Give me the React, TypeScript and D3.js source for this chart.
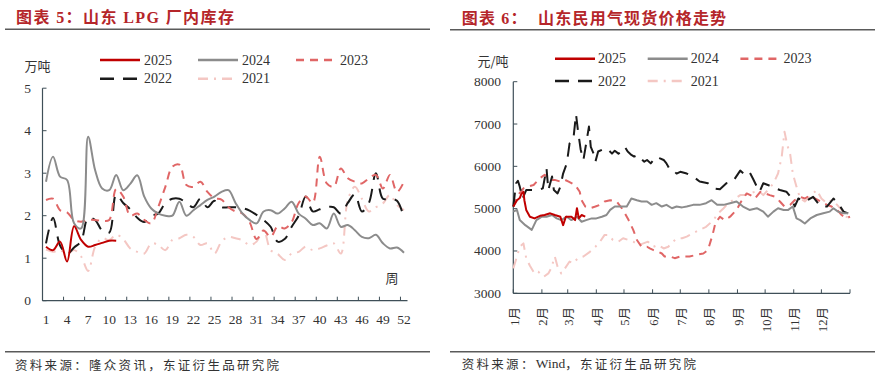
import React from "react";
import * as d3 from "d3";

// ---------- Left chart: 山东 LPG 厂内库存 (万吨), weekly ----------
const weeks = d3.range(1, 53);
const weekTickLabels = [1, 4, 7, 10, 13, 16, 19, 22, 25, 28, 31, 34, 37, 40, 43, 46, 49, 52];
const invTicks = [0, 1, 2, 3, 4, 5];

const inv2025 = [1.27, 1.19, 1.39, 0.92, 1.75, 1.43, 1.27, 1.31, 1.36, 1.41, 1.41];
const inv2024 = [2.8, 3.39, 2.92, 2.84, 1.82, 1.7, 3.86, 3.07, 2.64, 2.6, 2.96, 2.6, 2.75, 2.95, 2.45, 2.17, 2.05, 2.0, 2.0, 2.33, 2.0, 2.13, 2.25, 2.37, 2.45, 2.56, 2.6, 2.3, 2.05, 1.9, 1.82, 2.1, 2.13, 2.05, 2.17, 2.33, 2.05, 1.93, 1.78, 1.82, 1.7, 2.05, 1.74, 1.78, 1.66, 1.5, 1.47, 1.55, 1.35, 1.23, 1.25, 1.13];
const inv2023 = [2.37, 2.4, 2.13, 2.08, 1.9, 1.86, 1.9, 1.9, 1.88, 1.9, 2.63, 2.45, 2.0, 2.05, 1.9, 1.82, 2.21, 2.68, 3.15, 3.2, 2.72, 2.68, 2.8, 2.56, 2.41, 2.38, 2.2, 2.1, 2.05, 1.85, 1.45, 1.65, 1.5, 1.75, 1.7, 1.85, 2.3, 2.45, 2.3, 3.39, 2.76, 2.68, 3.11, 2.88, 2.8, 2.76, 2.88, 2.96, 2.64, 2.96, 2.56, 2.8];
const inv2022 = [1.35, 1.95, 1.3, 1.1, 1.25, 1.4, 1.95, 1.9, 1.65, 1.6, 2.5, 2.3, 2.15, 1.95, 1.85, 2.0, 2.05, 2.3, 2.4, 2.4, 2.3, 2.2, 2.4, 2.2, 2.35, 2.2, 2.2, 2.2, 2.18, 2.12, 2.02, 1.9, 1.74, 1.39, 1.45, 1.74, 2.0, 2.45, 2.1, 2.15, 2.2, 2.2, 2.05, 2.3, 2.5, 2.1, 2.3, 3.0, 2.4, 2.4, 2.35, 1.95];
const inv2021 = [1.2, 1.15, 1.19, 1.1, 1.19, 1.04, 0.7, 1.27, 1.47, 1.43, 1.55, 1.45, 1.23, 1.15, 1.11, 1.35, 1.31, 1.19, 1.43, 1.47, 1.55, 1.5, 1.31, 1.35, 1.11, 1.39, 1.5, 1.47, 1.42, 1.31, 1.39, 1.66, 1.19, 1.1, 0.96, 1.11, 1.15, 1.27, 1.19, 1.23, 1.3, 1.35, 1.11, 2.37, 2.68, 2.4, 2.1, 2.2, 2.29, 2.49, 2.25, 2.13];

// ---------- Right chart: 山东民用气现货价格 (元/吨), by day of year ----------
const monthLabels = ["1月", "2月", "3月", "4月", "5月", "6月", "7月", "8月", "9月", "10月", "11月", "12月"];
const monthStartDays = [0, 31, 59, 90, 120, 151, 181, 212, 243, 273, 304, 334, 365];
const priceTicks = [3000, 4000, 5000, 6000, 7000, 8000];

const price2025: [number, number][] = [[0, 5050], [4, 5200], [7, 5250], [9, 5360], [11, 5400], [12, 5200], [14, 4970], [18, 4810], [23, 4770], [29, 4830], [34, 4850], [40, 4890], [45, 4850], [51, 4810], [54, 4610], [57, 4810], [63, 4810], [67, 4730], [69, 5010], [71, 4770], [74, 4850], [78, 4810]];
const price2024: [number, number][] = [[0, 4930], [4, 4970], [7, 4730], [13, 4610], [20, 4500], [25, 4730], [31, 4810], [36, 4810], [42, 4850], [47, 4770], [52, 4730], [58, 4810], [63, 4730], [69, 4810], [74, 4690], [79, 4730], [85, 4770], [90, 4770], [96, 4810], [101, 4850], [105, 4970], [110, 5050], [117, 5050], [123, 5050], [128, 5240], [134, 5200], [139, 5170], [145, 5170], [150, 5090], [155, 5130], [161, 5050], [166, 5090], [172, 5010], [177, 5050], [183, 5030], [188, 5050], [195, 5090], [202, 5090], [209, 5130], [215, 5200], [221, 5090], [228, 5090], [235, 5130], [242, 5170], [249, 5050], [256, 4970], [264, 5010], [271, 4930], [276, 4810], [282, 4930], [287, 5010], [293, 4970], [298, 4970], [303, 5050], [307, 4770], [311, 4730], [316, 4650], [322, 4770], [329, 4850], [336, 4890], [343, 4930], [347, 5010], [352, 4930], [358, 4890], [363, 4890]];
const price2023: [number, number][] = [[0, 5050], [5, 5320], [11, 5480], [16, 5520], [22, 5560], [29, 5720], [34, 5800], [40, 5680], [45, 5680], [51, 5640], [56, 5680], [60, 5640], [67, 5560], [72, 5400], [74, 5200], [78, 5050], [83, 5010], [89, 5050], [94, 5090], [99, 5170], [105, 5200], [112, 5170], [119, 4970], [125, 4730], [130, 4500], [134, 4260], [139, 4100], [145, 4100], [148, 4060], [152, 4020], [157, 3980], [161, 3940], [164, 3870], [170, 3870], [175, 3830], [181, 3870], [184, 3870], [191, 3870], [199, 3910], [206, 3940], [211, 4020], [216, 4380], [219, 4650], [224, 4810], [229, 4730], [235, 4810], [242, 4970], [247, 5170], [253, 5360], [257, 5320], [262, 5240], [268, 5400], [273, 5360], [278, 5320], [284, 5280], [289, 5170], [294, 5050], [300, 5090], [305, 5200], [311, 5280], [316, 5240], [322, 5320], [327, 5240], [333, 5170], [340, 5090], [345, 5050], [351, 4970], [356, 4850], [361, 4770], [365, 4810]];
const price2022: [number, number][] = [[0, 5050], [3, 5600], [5, 5660], [7, 5520], [10, 5240], [14, 5440], [21, 5440], [28, 5450], [32, 5480], [36, 5950], [38, 5440], [42, 5760], [44, 5440], [48, 5360], [51, 5520], [54, 5830], [58, 6070], [61, 6540], [65, 6620], [68, 7230], [70, 6860], [73, 6400], [76, 6150], [79, 6540], [82, 6940], [84, 6460], [87, 6300], [89, 6110], [92, 6350], [96, 6390], [100, 6430], [103, 6390], [107, 6300], [110, 6370], [114, 6300], [117, 6350], [121, 6460], [124, 6350], [128, 6270], [131, 6230], [135, 6270], [138, 6190], [142, 6110], [145, 6150], [149, 6070], [152, 6150], [156, 6230], [159, 6190], [163, 6150], [166, 6070], [170, 5910], [173, 5910], [177, 5830], [181, 5870], [188, 5830], [195, 5760], [202, 5640], [211, 5600], [217, 5480], [224, 5460], [231, 5600], [238, 5640], [246, 5900], [251, 5800], [256, 5870], [260, 5700], [264, 5520], [267, 5400], [271, 5600], [276, 5560], [284, 5480], [289, 5440], [296, 5400], [302, 5240], [305, 5050], [309, 5240], [316, 5160], [325, 5280], [333, 5050], [340, 5050], [347, 5240], [352, 5130], [358, 4930], [363, 4890]];
const price2021: [number, number][] = [[0, 3590], [4, 3870], [7, 4100], [11, 4180], [14, 3830], [18, 3650], [23, 3470], [27, 3510], [33, 3390], [38, 3470], [41, 3590], [45, 3870], [48, 3630], [52, 3470], [56, 3590], [61, 3750], [65, 3710], [70, 3830], [76, 3870], [83, 3980], [89, 4100], [94, 4220], [99, 4380], [103, 4380], [108, 4260], [114, 4220], [119, 4300], [125, 4260], [130, 4220], [136, 4140], [141, 4180], [146, 4220], [152, 4100], [157, 4140], [163, 4060], [168, 4100], [173, 4220], [178, 4300], [183, 4300], [188, 4340], [195, 4420], [202, 4500], [209, 4570], [217, 4730], [222, 4890], [228, 5010], [233, 5130], [238, 5200], [246, 5320], [251, 5320], [256, 5360], [262, 5400], [267, 5400], [271, 5320], [276, 5440], [282, 5600], [287, 5830], [291, 6230], [294, 6820], [297, 6500], [300, 6310], [303, 5830], [307, 5520], [311, 5240], [316, 5170], [323, 5320], [329, 5440], [334, 5240], [340, 5130], [345, 5200], [351, 5090], [356, 4970], [361, 4810], [365, 4770]];

const seriesNames = ["2025", "2024", "2023", "2022", "2021"];

// ---------- styles ----------
const STYLE: Record<string, { color: string; dash?: string; width: number }> = {
  "2025": { color: "#c00000", width: 2 },
  "2024": { color: "#8c8c8c", width: 2 },
  "2023": { color: "#e06666", dash: "8,6", width: 2 },
  "2022": { color: "#1a1a1a", dash: "14,9", width: 2 },
  "2021": { color: "#f4c7c3", dash: "10,6,2,6", width: 2 },
};

const SERIF = "'Liberation Serif', 'Noto Sans CJK SC', serif";
const CJK = "'Noto Sans CJK SC', 'Liberation Serif', sans-serif";
const AXIS = "#3f4f58";
const TITLE_RED = "#b5262a";

function Legend({ x0, rows, gapX, labelOffset }: { x0: number; rows: number[]; gapX: number; labelOffset: number }) {
  const items = seriesNames.map((n, i) => ({ n, col: i % 3, row: Math.floor(i / 3) }));
  return (
    <g>
      {items.map(({ n, col, row }) => {
        const x = x0 + col * gapX;
        const y = rows[row];
        const s = STYLE[n];
        return (
          <g key={n}>
            <line x1={x} x2={x + 40} y1={y} y2={y} stroke={s.color} strokeWidth={2.5} strokeDasharray={s.dash} />
            <text x={x + labelOffset} y={y} dominantBaseline="central" fontSize={14} fontFamily={SERIF} fill="#333">
              {n}
            </text>
          </g>
        );
      })}
    </g>
  );
}

export default function App() {
  // left scales
  const xL = d3.scaleBand<number>().domain(weeks).range([42.5, 407.5]).paddingInner(0).paddingOuter(0);
  const yL = d3.scaleLinear().domain([0, 5]).range([300.7, 88.2]);
  const cx = (w: number) => (xL(w) as number) + xL.bandwidth() / 2;
  const lineL = d3
    .line<number>()
    .x((_, i) => cx(i + 1))
    .y((v) => yL(v))
    .curve(d3.curveCatmullRom.alpha(0.5));
  const leftSeries: [string, number[]][] = [
    ["2021", inv2021],
    ["2022", inv2022],
    ["2023", inv2023],
    ["2024", inv2024],
    ["2025", inv2025],
  ];

  // right scales
  const xR = d3.scaleLinear().domain([0, 365]).range([513.3, 850]);
  const yR = d3.scaleLinear().domain([3000, 8000]).range([293.3, 81.7]);
  const lineR = d3
    .line<[number, number]>()
    .x((d) => xR(d[0]))
    .y((d) => yR(d[1]));
  const rightSeries: [string, [number, number][]][] = [
    ["2021", price2021],
    ["2023", price2023],
    ["2022", price2022],
    ["2024", price2024],
    ["2025", price2025],
  ];

  return (
    <svg
      width={880}
      height={384}
      style={{ position: "absolute", left: 0, top: 0, background: "#fff" }}
      xmlns="http://www.w3.org/2000/svg"
    >
      <rect x={0} y={0} width={880} height={384} fill="#fff" />

      {/* ===== Left panel ===== */}
      <text x={16} y={17.5} dominantBaseline="central" fontSize={16} fontWeight="bold" fontFamily={SERIF} fill={TITLE_RED} letterSpacing={1.4} style={{ whiteSpace: "pre" }}>
        图表 5：山东 LPG 厂内库存
      </text>
      <line x1={5} x2={430} y1={29.3} y2={29.3} stroke="#5a5a5a" strokeWidth={1.5} />

      <text x={37.5} y={65} textAnchor="middle" dominantBaseline="central" fontSize={13} fontFamily={CJK} fill="#333">
        万吨
      </text>
      <Legend x0={100} rows={[60, 78.7]} gapX={98} labelOffset={44} />

      {/* y axis */}
      <line x1={42.5} x2={42.5} y1={yL(5)} y2={yL(0)} stroke={AXIS} strokeWidth={1.2} />
      {invTicks.map((t) => (
        <g key={t}>
          <line x1={42.5} x2={46.5} y1={yL(t)} y2={yL(t)} stroke={AXIS} strokeWidth={1} />
          <text x={31} y={yL(t)} textAnchor="end" dominantBaseline="central" fontSize={13.5} fontFamily={SERIF} fill="#333">
            {t}
          </text>
        </g>
      ))}
      {/* x axis */}
      <line x1={42.5} x2={407.5} y1={yL(0)} y2={yL(0)} stroke={AXIS} strokeWidth={1.2} />
      {weekTickLabels.map((w) => (
        <g key={w}>
          <line x1={xL(w) as number} x2={xL(w) as number} y1={yL(0)} y2={yL(0) - 4} stroke={AXIS} strokeWidth={1} />
          <text x={cx(w)} y={319} textAnchor="middle" dominantBaseline="central" fontSize={13.5} fontFamily={SERIF} fill="#333">
            {w}
          </text>
        </g>
      ))}
      <text x={392} y={277} textAnchor="middle" dominantBaseline="central" fontSize={13} fontFamily={CJK} fill="#333">
        周
      </text>

      {leftSeries.map(([n, vals]) => (
        <path key={n} d={lineL(vals) || ""} fill="none" stroke={STYLE[n].color} strokeWidth={STYLE[n].width} strokeDasharray={STYLE[n].dash} strokeLinejoin="round" />
      ))}

      <line x1={5} x2={430} y1={351.7} y2={351.7} stroke="#5a5a5a" strokeWidth={1.5} />
      <text x={15} y={364} dominantBaseline="central" fontSize={12.5} fontFamily={CJK} fill="#333" letterSpacing={2.3}>
        资料来源：隆众资讯，东证衍生品研究院
      </text>

      {/* ===== Right panel ===== */}
      <text x={461.7} y={18.3} dominantBaseline="central" fontSize={16} fontWeight="bold" fontFamily={SERIF} fill={TITLE_RED} letterSpacing={1.2} style={{ whiteSpace: "pre" }}>
        图表 6：  山东民用气现货价格走势
      </text>
      <line x1={450} x2={875} y1={29.7} y2={29.7} stroke="#5a5a5a" strokeWidth={1.5} />

      <text x={493} y={60} textAnchor="middle" dominantBaseline="central" fontSize={13} fontFamily={CJK} fill="#333">
        元/吨
      </text>
      <Legend x0={555} rows={[58.7, 81]} gapX={92.7} labelOffset={43} />

      <line x1={513.3} x2={513.3} y1={yR(8000)} y2={yR(3000)} stroke={AXIS} strokeWidth={1.2} />
      {priceTicks.map((t) => (
        <g key={t}>
          <line x1={513.3} x2={517.3} y1={yR(t)} y2={yR(t)} stroke={AXIS} strokeWidth={1} />
          <text x={501} y={yR(t)} textAnchor="end" dominantBaseline="central" fontSize={13.5} fontFamily={SERIF} fill="#333">
            {t}
          </text>
        </g>
      ))}
      <line x1={513.3} x2={850} y1={yR(3000)} y2={yR(3000)} stroke={AXIS} strokeWidth={1.2} />
      {monthStartDays.map((d) => (
        <line key={d} x1={xR(d)} x2={xR(d)} y1={yR(3000)} y2={yR(3000) - 4} stroke={AXIS} strokeWidth={1} />
      ))}
      {monthLabels.map((m, i) => {
        const x = xR(monthStartDays[i]) + 1.5;
        const y = 307;
        return (
          <text key={m} x={x} y={y} transform={`rotate(-90 ${x} ${y})`} textAnchor="end" dominantBaseline="central" fontSize={12.5} fontFamily={SERIF} fill="#333">
            {m}
          </text>
        );
      })}

      {rightSeries.map(([n, pts]) => (
        <path key={n} d={lineR(pts) || ""} fill="none" stroke={STYLE[n].color} strokeWidth={STYLE[n].width} strokeDasharray={STYLE[n].dash} strokeLinejoin="round" />
      ))}

      <line x1={450} x2={875} y1={351.7} y2={351.7} stroke="#5a5a5a" strokeWidth={1.5} />
      <text x={461.7} y={363} dominantBaseline="central" fontSize={12.5} fontFamily={CJK} fill="#333">
        <tspan letterSpacing={2.3}>资料来源：</tspan>
        <tspan fontFamily={SERIF} fontSize={13.5}>Wind</tspan>
        <tspan letterSpacing={2.3}>，东证衍生品研究院</tspan>
      </text>
    </svg>
  );
}
